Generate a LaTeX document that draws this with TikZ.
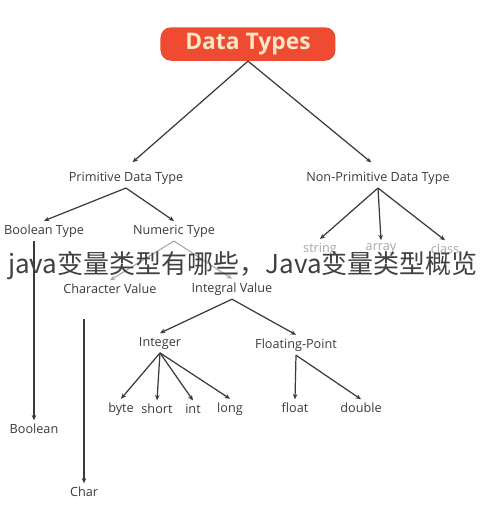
\documentclass[tikz,border=0pt]{standalone}
\usepackage{fontspec}
\setmainfont{Open Sans}
\newfontfamily\cjk{Noto Sans CJK SC}
\usetikzlibrary{arrows.meta}
\definecolor{boxred}{HTML}{EE4B32}
\definecolor{cream}{HTML}{FCE6C6}
\definecolor{ink}{HTML}{3A3A3A}

\begin{document}
\begin{tikzpicture}[x=0.02cm, y=-0.02cm,
    lbl/.style={text=ink, font=\fontsize{7.2}{8}\selectfont, inner sep=2pt},
    faint/.style={text=black!35, font=\fontsize{7.2}{8}\selectfont, inner sep=2pt},
    arr/.style={ink, line width=0.7pt, -{Stealth[length=3pt, width=2.6pt]}},
    arrfaint/.style={black!35, line width=0.6pt, -{Stealth[length=3pt, width=2.6pt]}}]
      \useasboundingbox (0,0) rectangle (490,512);
      \node[fill=boxred, rounded corners=6pt, minimum width=175*0.02cm, minimum height=32*0.02cm,
            text=cream, font=\fontsize{13}{14}\bfseries\selectfont] at (248,44) (dtypes) {Data Types};

      \node[lbl] at (126,178) (prim) {Primitive Data Type};
      \node[lbl] at (378,178) (nonprim) {Non-Primitive Data Type};
      \draw[arr, shorten >=5pt] (dtypes.south) -- (prim.north);
      \draw[arr, shorten >=5pt] (dtypes.south) -- (nonprim.north);

      \node[lbl] at (44,231) (boolt) {Boolean Type};
      \node[lbl] at (174,231) (numt) {Numeric Type};
      \draw[arr] (prim.south) -- (boolt.north);
      \draw[arr] (prim.south) -- (numt.north);

      \node[faint] at (320,249) (strng) {string};
      \node[faint] at (381,249) (arry) {array};
      \node[faint] at (445,249) (clss) {class};
      \draw[arr] (nonprim.south) -- (strng.north);
      \draw[arr] (nonprim.south) -- (arry.north);
      \draw[arr] (nonprim.south) -- (clss.north);

      \node[lbl] at (110,289) (charval) {Character Value};
      \node[lbl] at (232,289) (intval) {Integral Value};
      \draw[arrfaint] (numt.south) -- (charval.north);
      \draw[arrfaint] (numt.south) -- (intval.north);

      \node[lbl] at (34,429) (boolv) {Boolean};
      \node[lbl] at (84,492) (charv) {Char};
      \draw[arr] (boolv.north |- boolt.south) -- (boolv.north);
      \draw[arr, shorten <=12pt] (charv.north |- charval.south) -- (charv.north);

      \node[lbl] at (160,343) (integer) {Integer};
      \node[lbl] at (296,345) (fpoint) {Floating-Point};
      \draw[arr] (intval.south) -- (integer.north);
      \draw[arr] (intval.south) -- (fpoint.north);

      \node[lbl] at (121,409) (byte) {byte};
      \node[lbl] at (157,409) (short) {short};
      \node[lbl] at (193,409) (int) {int};
      \node[lbl] at (230,409) (long) {long};
      \foreach \t in {byte,short,int,long}
        \draw[arr] (integer.south) -- (\t.north);

      \node[lbl] at (295,408) (float) {float};
      \node[lbl] at (361,408) (double) {double};
      \draw[arr] (fpoint.south) -- (float.north);
      \draw[arr] (fpoint.south) -- (double.north);

      % watermark across the middle
      \node[text=black!75, font=\cjk\fontsize{14.8}{16}\selectfont, inner sep=0pt] at (243,266) (mark)
        {java变量类型有哪些，Java变量类型概览};
    \end{tikzpicture}
\end{document}
